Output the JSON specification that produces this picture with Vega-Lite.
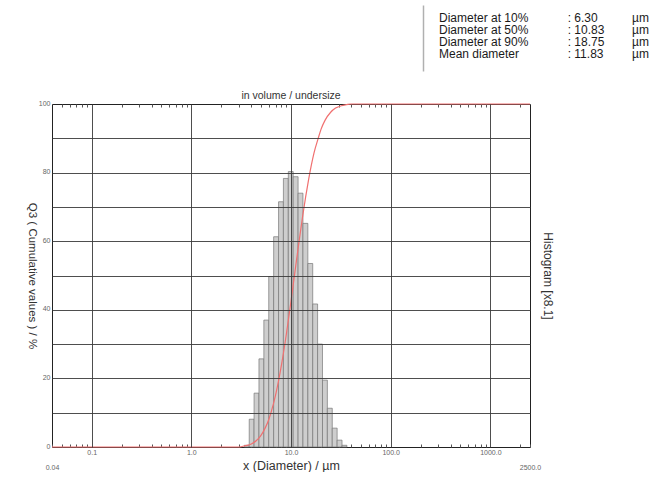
{
  "$schema": "https://vega.github.io/schema/vega-lite/v6.json",
  "background": "white",
  "padding": {"left": 25, "top": 5, "right": 0, "bottom": 0},
  "spacing": 19,
  "config": {"font": "Liberation Sans", "view": {"stroke": null}},
  "vconcat": [
    {
      "width": 600,
      "height": 66,
      "data": {"values": [
        {"row": 1, "col": "label", "text": "Diameter at 10%"},
        {"row": 1, "col": "value", "text": ":  6.30"},
        {"row": 1, "col": "unit", "text": "µm"},
        {"row": 2, "col": "label", "text": "Diameter at 50%"},
        {"row": 2, "col": "value", "text": ": 10.83"},
        {"row": 2, "col": "unit", "text": "µm"},
        {"row": 3, "col": "label", "text": "Diameter at 90%"},
        {"row": 3, "col": "value", "text": ": 18.75"},
        {"row": 3, "col": "unit", "text": "µm"},
        {"row": 4, "col": "label", "text": "Mean diameter"},
        {"row": 4, "col": "value", "text": ": 11.83"},
        {"row": 4, "col": "unit", "text": "µm"}
      ]},
      "mark": {"type": "text", "align": "left", "baseline": "middle", "fontSize": 12, "color": "#1a1a1a"},
      "encoding": {
        "x": {"field": "col", "type": "nominal", "scale": {"type": "point", "padding": 0, "domain": ["label", "_", "value", "unit"], "range": [387, 580]}, "axis": null},
        "y": {"field": "row", "type": "ordinal", "scale": {"type": "band", "paddingInner": 0, "paddingOuter": 0.75, "align": 0.4},
              "axis": {"orient": "left", "offset": -371, "labels": false, "ticks": false, "domain": true, "domainColor": "#b0b0b0", "domainWidth": 1.5, "grid": false, "title": null}},
        "text": {"field": "text"}
      }
    },
    {
      "width": 478,
      "height": 343,
      "view": {"stroke": "#222222", "strokeWidth": 1},
      "title": {"text": "in volume / undersize", "fontSize": 10.5, "fontWeight": "normal", "color": "#333333", "offset": -2},
      "resolve": {"axis": {"x": "independent", "y": "independent"}},
      "layer": [
        {
          "data": {"values": [
            {"lo": 3.40, "hi": 3.81, "v": 0.5},
            {"lo": 3.81, "hi": 4.26, "v": 8.1},
            {"lo": 4.26, "hi": 4.77, "v": 15.7},
            {"lo": 4.77, "hi": 5.34, "v": 25.7},
            {"lo": 5.34, "hi": 5.98, "v": 37.0},
            {"lo": 5.98, "hi": 6.70, "v": 49.7},
            {"lo": 6.70, "hi": 7.50, "v": 61.3},
            {"lo": 7.50, "hi": 8.39, "v": 71.5},
            {"lo": 8.39, "hi": 9.40, "v": 78.3},
            {"lo": 9.40, "hi": 10.52, "v": 80.3},
            {"lo": 10.52, "hi": 11.78, "v": 78.8},
            {"lo": 11.78, "hi": 13.18, "v": 74.0},
            {"lo": 13.18, "hi": 14.76, "v": 65.2},
            {"lo": 14.76, "hi": 16.52, "v": 53.5},
            {"lo": 16.52, "hi": 18.49, "v": 41.7},
            {"lo": 18.49, "hi": 20.70, "v": 30.0},
            {"lo": 20.70, "hi": 23.17, "v": 19.5},
            {"lo": 23.17, "hi": 25.94, "v": 11.3},
            {"lo": 25.94, "hi": 29.03, "v": 5.5},
            {"lo": 29.03, "hi": 32.50, "v": 2.0},
            {"lo": 32.50, "hi": 36.38, "v": 0.5}
          ]},
          "mark": {"type": "rect", "fill": "#cecece", "stroke": "#777777", "strokeWidth": 0.7},
          "encoding": {
            "x": {"field": "lo", "type": "quantitative",
                  "scale": {"type": "log", "domain": [0.04, 2500], "nice": false},
                  "axis": {"orient": "bottom", "values": [0.1, 1, 10, 100, 1000], "format": ".1f", "grid": true, "gridColor": "#3a3a3a", "gridWidth": 0.9,
                           "ticks": false, "domain": false, "labelPadding": 1, "labelFontSize": 7, "labelColor": "#666666", "labelOverlap": false, "labelFlush": false,
                           "title": "x (Diameter) / µm", "titleFontSize": 12.5, "titleFontWeight": "normal", "titleColor": "#333333", "titlePadding": 4, "zindex": 1}},
            "x2": {"field": "hi"},
            "y": {"field": "v", "type": "quantitative",
                  "scale": {"domain": [0, 100], "nice": false},
                  "axis": {"orient": "left", "values": [0, 20, 40, 60, 80, 100], "format": "d", "grid": false, "ticks": false, "domain": false,
                           "labelPadding": 2, "labelFontSize": 7, "labelColor": "#666666", "labelBaseline": "middle", "labelOffset": -1,
                           "title": "Q3 ( Cumulative values ) / %", "titleAngle": 90, "titleBaseline": "top", "titleFontSize": 11.5, "titleFontWeight": "normal", "titleColor": "#333333", "titlePadding": 1}},
            "y2": {"datum": 0}
          }
        },
        {
          "data": {"name": "curve", "values": [
            {"d": 0.04, "q": 0}, {"d": 3.0, "q": 0}, {"d": 3.5, "q": 0.4}, {"d": 4.0, "q": 0.9}, {"d": 4.5, "q": 1.9},
            {"d": 5.0, "q": 3.4}, {"d": 5.5, "q": 5.5}, {"d": 6.0, "q": 8.1}, {"d": 6.3, "q": 10}, {"d": 7.0, "q": 15.1},
            {"d": 8.0, "q": 23.7}, {"d": 9.0, "q": 33.1}, {"d": 10.0, "q": 42.5}, {"d": 10.83, "q": 50}, {"d": 12.0, "q": 59.6},
            {"d": 13.0, "q": 66.7}, {"d": 14.0, "q": 72.8}, {"d": 15.0, "q": 77.9}, {"d": 16.0, "q": 82.2}, {"d": 17.0, "q": 85.7},
            {"d": 18.75, "q": 90}, {"d": 20.0, "q": 92.6}, {"d": 22.0, "q": 95.3}, {"d": 25.0, "q": 97.6}, {"d": 28.0, "q": 98.8},
            {"d": 32.0, "q": 99.5}, {"d": 36.0, "q": 99.8}, {"d": 40.0, "q": 100}, {"d": 2500, "q": 100}
          ]},
          "mark": {"type": "line", "color": "#f07070", "strokeWidth": 1.2, "interpolate": "monotone"},
          "encoding": {
            "x": {"field": "d", "type": "quantitative",
                  "scale": {"type": "log", "domain": [0.04, 2500], "nice": false},
                  "axis": {"orient": "top", "values": [0.05, 0.06, 0.07, 0.08, 0.09, 0.2, 0.3, 0.4, 0.5, 0.6, 0.7, 0.8, 0.9, 2, 3, 4, 5, 6, 7, 8, 9, 20, 30, 40, 50, 60, 70, 80, 90, 200, 300, 400, 500, 600, 700, 800, 900, 2000],
                           "labels": false, "ticks": true, "tickSize": -3, "tickColor": "#555555", "domain": false, "grid": false, "title": null}},
            "y": {"field": "q", "type": "quantitative",
                  "scale": {"domain": [0, 100], "nice": false},
                  "axis": {"orient": "right", "labels": false, "ticks": false, "domain": false, "grid": false,
                           "title": "Histogram [x8.1]", "titleAngle": 90, "titleFontSize": 12, "titleFontWeight": "normal", "titleColor": "#333333", "titlePadding": 10}}
          }
        },
        {
          "data": {"name": "curve"},
          "mark": {"type": "point", "opacity": 0},
          "encoding": {
            "x": {"field": "d", "type": "quantitative",
                  "scale": {"type": "log", "domain": [0.04, 2500], "nice": false},
                  "axis": {"orient": "bottom", "values": [0.04, 0.05, 0.06, 0.07, 0.08, 0.09, 0.2, 0.3, 0.4, 0.5, 0.6, 0.7, 0.8, 0.9, 2, 3, 4, 5, 6, 7, 8, 9, 20, 30, 40, 50, 60, 70, 80, 90, 200, 300, 400, 500, 600, 700, 800, 900, 2000, 2500],
                           "labelExpr": "datum.value == 0.04 ? '0.04' : (datum.value == 2500 ? '2500.0' : '')",
                           "labelOverlap": false, "labelFlush": false, "labelPadding": 19, "labelFontSize": 7, "labelColor": "#666666",
                           "ticks": true, "tickSize": -3, "tickColor": "#555555", "domain": false, "grid": false, "title": null}},
            "y": {"field": "q", "type": "quantitative",
                  "scale": {"domain": [0, 100], "nice": false},
                  "axis": {"orient": "left", "values": [10, 20, 30, 40, 50, 60, 70, 80, 90], "labels": false, "ticks": false, "domain": false,
                           "grid": true, "gridColor": "#3a3a3a", "gridWidth": 0.9, "title": null, "zindex": 1}}
          }
        }
      ]
    }
  ]
}
